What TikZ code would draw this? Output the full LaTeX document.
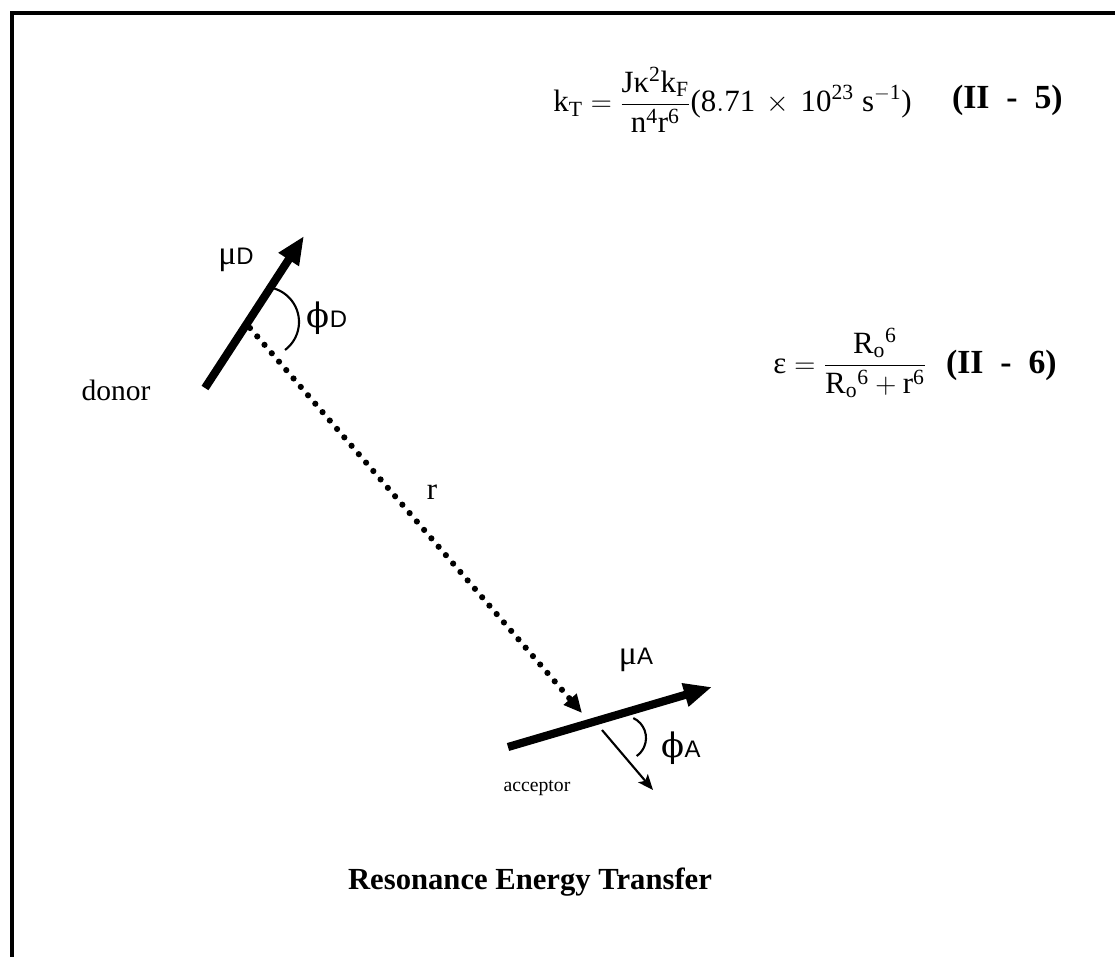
\documentclass[tikz,border=0pt]{standalone}
\usepackage{fontspec}
\setmainfont{Liberation Serif}
\newfontfamily\subsans{Liberation Sans}
\newfontfamily\greekup{DejaVu Serif}
\usetikzlibrary{arrows.meta, positioning, calc}

\newcommand{\dipsub}[1]{{\subsans\fontsize{17}{18}\selectfont #1}}

\begin{document}
\begin{tikzpicture}[x=0.025cm,y=-0.025cm,
    dipole/.style={line width=5.8pt, -{Triangle[length=20pt, width=16pt]}},
    transfer/.style={line width=4.4pt, line cap=round, dash pattern=on 0pt off 7.9pt,
      -{Triangle[length=13pt, width=11.5pt]}},
    thinvec/.style={line width=1.5pt, -{Stealth[length=11pt, width=9pt, inset=2.5pt]}},
    anglearc/.style={line width=1.5pt},
    lbl/.style={inner sep=0pt, font=\fontsize{24}{26}\selectfont},
    eqn/.style={inner sep=0pt, font=\fontsize{22}{26}\selectfont},
    eqtag/.style={inner sep=0pt, font=\fontsize{24}{28}\selectfont\bfseries}]
  \useasboundingbox (0,0) rectangle (1115,957);
  % frame, top and left side only
  \draw[line width=2.2pt] (12,957) -- (12,13) -- (1115,13);

  % donor and acceptor dipoles
  \coordinate (dtail) at (205,388);
  \coordinate (dhead) at (304,236);
  \coordinate (atail) at (508,747);
  \coordinate (ahead) at (712,687);
  \draw[dipole] (dtail) -- (dhead);
  \draw[dipole] (atail) -- (ahead);

  % separation r
  \coordinate (rstart) at (250,328);
  \coordinate (rend) at (582,713);
  \draw[transfer] (rstart) -- (rend);

  % direction of r at the acceptor
  \coordinate (nstart) at (602,730);
  \coordinate (nend) at (653,790);
  \draw[thinvec] (nstart) -- (nend);

  % angles
  \coordinate (cD) at (264,322);
  \coordinate (cA) at (624,738);
  \draw[anglearc] ($(cD)+(82:35 and -35)$) arc[start angle=82, end angle=-53, x radius=35, y radius=-35];
  \draw[anglearc] ($(cA)+(65:22 and -22)$) arc[start angle=65, end angle=-55, x radius=22, y radius=-22];

  % labels
  \node[lbl] (muD) at (236,260) {μ\dipsub{D}};
  \node[lbl] (phiD) at (327,318) {{\greekup ϕ}\dipsub{D}};
  \node[lbl] (muA) at (636,660) {μ\dipsub{A}};
  \node[lbl] (phiA) at (681,748) {{\greekup ϕ}\dipsub{A}};
  \node[lbl, font=\fontsize{21}{23}\selectfont] (donor) at (116,390) {donor};
  \node[lbl, font=\fontsize{14}{16}\selectfont] (acceptor) at (537,788) {acceptor};
  \node[lbl, font=\fontsize{22}{24}\selectfont] (rlbl) at (432,492) {r};

  % equations
  \node[eqn, anchor=base west] (eqrate) at (553,112)
    {$\mathrm{k}_{\mathrm{T}} = \displaystyle\frac{\mathrm{J}\mbox{κ}^{\mathrm{2}}\mathrm{k}_{\mathrm{F}}}{\mathrm{n}^{\mathrm{4}}\mathrm{r}^{\mathrm{6}}}\mbox{(}\mathrm{8.71}\,\times\,\mathrm{10}^{\mathrm{23}}\;\mathrm{s}^{-\mathrm{1}}\mbox{)}$};
  \node[eqtag, anchor=base east] (tagrate) at (1063,109) {(II\hspace{0.5em}-\hspace{0.5em}5)};
  \node[eqn, anchor=base west] (eqeff) at (773,373)
    {$\mbox{ε} = \displaystyle\frac{\mathrm{R}_{\mathrm{o}}{}^{\mathrm{6}}}{\mathrm{R}_{\mathrm{o}}{}^{\mathrm{6}} + \mathrm{r}^{\mathrm{6}}}$};
  \node[eqtag, anchor=base east] (tageff) at (1057,373) {(II\hspace{0.5em}-\hspace{0.5em}6)};

  % title
  \node[inner sep=0pt, font=\fontsize{21.8}{26}\selectfont\bfseries] (title) at (530,882)
    {Resonance Energy Transfer};
\end{tikzpicture}
\end{document}
